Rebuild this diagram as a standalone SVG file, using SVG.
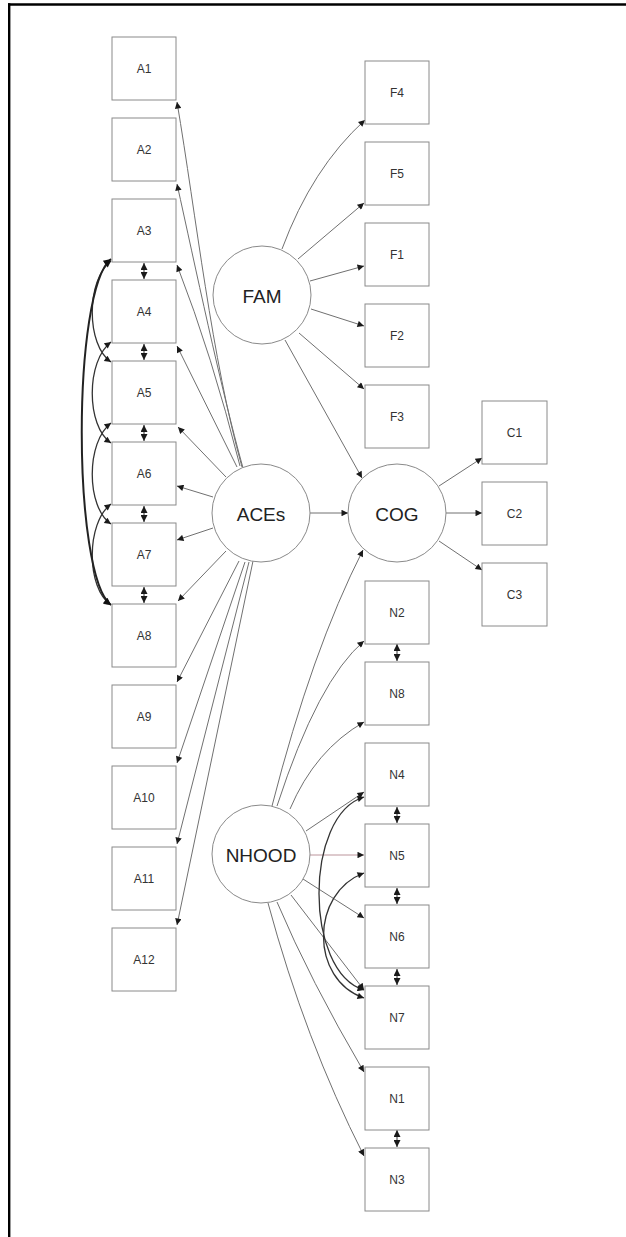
<svg xmlns="http://www.w3.org/2000/svg" width="626" height="1237" viewBox="0 0 626 1237">
  <defs>
    <style>
      .box { fill: #ffffff; stroke: #8a8a8a; stroke-width: 1; }
      .lat { fill: #ffffff; stroke: #8a8a8a; stroke-width: 1; }
      .bl { font-family: "Liberation Sans", Arial, sans-serif; font-size: 12px; fill: #333; text-anchor: middle; dominant-baseline: central; }
      .ll { font-family: "Liberation Sans", Arial, sans-serif; font-size: 19px; fill: #222; text-anchor: middle; dominant-baseline: central; }
      .e { fill: none; stroke: #707070; stroke-width: 1; marker-end: url(#ah); }
      .cv { fill: none; stroke: #333; stroke-width: 1.3; marker-start: url(#ah); marker-end: url(#ah); }
      .cvb { fill: none; stroke: #222; stroke-width: 2; marker-start: url(#ahb); marker-end: url(#ahb); }
      .dd { fill: none; stroke: #333; stroke-width: 1; marker-start: url(#ahs); marker-end: url(#ahs); }
    </style>
    <marker id="ah" viewBox="0 0 10 10" refX="10" refY="5" markerWidth="9" markerHeight="6.5" markerUnits="userSpaceOnUse" orient="auto-start-reverse">
      <path d="M0,0 L10,5 L0,10 z" fill="#1a1a1a"/>
    </marker>
    <marker id="ahb" viewBox="0 0 10 10" refX="10" refY="5" markerWidth="10" markerHeight="7.5" markerUnits="userSpaceOnUse" orient="auto-start-reverse">
      <path d="M0,0 L10,5 L0,10 z" fill="#111"/>
    </marker>
    <marker id="ahs" viewBox="0 0 10 10" refX="10" refY="5" markerWidth="8" markerHeight="7" markerUnits="userSpaceOnUse" orient="auto-start-reverse">
      <path d="M0,0 L10,5 L0,10 z" fill="#1a1a1a"/>
    </marker>
  </defs>

  <rect x="0" y="0" width="626" height="1237" fill="#ffffff"/>

  <!-- frame -->
  <g id="frame" stroke="#000" stroke-width="2.4">
    <line x1="8" y1="4.5" x2="626" y2="4.5"/>
    <line x1="9.2" y1="3.3" x2="9.2" y2="1237"/>
  </g>

  <!-- connectors -->
  <g id="connectors">
    <!-- ACEs loadings -->
    <path class="e" d="M242,467 C212,360 196,215 177,102"/>
    <path class="e" d="M243,468 C220,385 195,265 177,184"/>
    <path class="e" d="M240,466 Q212,355 177,265"/>
    <path class="e" d="M237,467 L177,346"/>
    <path class="e" d="M226,477 L178,427"/>
    <path class="e" d="M213,497 L177,486"/>
    <path class="e" d="M213,528 L177,540"/>
    <path class="e" d="M226,551 L178,601"/>
    <path class="e" d="M239,561 L177,682"/>
    <path class="e" d="M245,562 L177,763"/>
    <path class="e" d="M249,562 L177,844"/>
    <path class="e" d="M253,561 L177,925"/>

    <!-- FAM loadings -->
    <path class="e" d="M282,249 Q312,168 365,120"/>
    <path class="e" d="M298,259 L364,203"/>
    <path class="e" d="M310,281 L364,266"/>
    <path class="e" d="M311,309 L364,326"/>
    <path class="e" d="M299,333 L364,389"/>

    <!-- structural paths -->
    <path class="e" d="M285,340 L362,478"/>
    <path class="e" d="M310,513 L348,513"/>
    <path class="e" d="M272,806 Q312,650 363,550"/>

    <!-- COG loadings -->
    <path class="e" d="M439,486 L482,458"/>
    <path class="e" d="M446,513 L482,513"/>
    <path class="e" d="M439,541 L482,570"/>

    <!-- NHOOD loadings -->
    <path class="e" d="M277,806 Q318,680 364,641"/>
    <path class="e" d="M290,809 Q315,750 364,722"/>
    <path class="e" d="M306,831 L364,792"/>
    <path class="e" d="M310,855 L364,855" style="stroke:#bb949b"/>
    <path class="e" d="M303,879 L364,918"/>
    <path class="e" d="M291,895 L364,990"/>
    <path class="e" d="M277,902 Q310,980 364,1072"/>
    <path class="e" d="M268,903 Q305,1040 364,1156"/>

    <!-- residual covariances, adjacent items -->
    <path class="dd" d="M144,263 L144,279"/>
    <path class="dd" d="M144,344 L144,360"/>
    <path class="dd" d="M144,425 L144,441"/>
    <path class="dd" d="M144,506 L144,522"/>
    <path class="dd" d="M144,587 L144,603"/>
    <path class="dd" d="M397,644 L397,661"/>
    <path class="dd" d="M397,807 L397,823"/>
    <path class="dd" d="M397,888 L397,904"/>
    <path class="dd" d="M397,969 L397,985"/>
    <path class="dd" d="M397,1130 L397,1147"/>

    <!-- residual covariances, curved -->
    <path class="cv" d="M111,261 C86,280 86,345 111,362"/>
    <path class="cv" d="M111,342 C86,361 86,426 111,443"/>
    <path class="cv" d="M111,423 C86,442 86,507 111,524"/>
    <path class="cv" d="M111,504 C86,523 86,588 111,605"/>
    <path class="cvb" d="M111,259 C72,290 72,575 111,605"/>
    <path class="cv" d="M364,797 C304,815 304,972 364,990"/>
    <path class="cv" d="M364,873 C310,893 310,980 364,998"/>
  </g>

  <!-- ACEs indicators -->
  <g id="A1"><rect class="box" x="112" y="37" width="64" height="63"/><text class="bl" x="144" y="69">A1</text></g>
  <g id="A2"><rect class="box" x="112" y="118" width="64" height="63"/><text class="bl" x="144" y="150">A2</text></g>
  <g id="A3"><rect class="box" x="112" y="199" width="64" height="63"/><text class="bl" x="144" y="231">A3</text></g>
  <g id="A4"><rect class="box" x="112" y="280" width="64" height="63"/><text class="bl" x="144" y="312">A4</text></g>
  <g id="A5"><rect class="box" x="112" y="361" width="64" height="63"/><text class="bl" x="144" y="393">A5</text></g>
  <g id="A6"><rect class="box" x="112" y="442" width="64" height="63"/><text class="bl" x="144" y="474">A6</text></g>
  <g id="A7"><rect class="box" x="112" y="523" width="64" height="63"/><text class="bl" x="144" y="555">A7</text></g>
  <g id="A8"><rect class="box" x="112" y="604" width="64" height="63"/><text class="bl" x="144" y="636">A8</text></g>
  <g id="A9"><rect class="box" x="112" y="685" width="64" height="63"/><text class="bl" x="144" y="717">A9</text></g>
  <g id="A10"><rect class="box" x="112" y="766" width="64" height="63"/><text class="bl" x="144" y="798">A10</text></g>
  <g id="A11"><rect class="box" x="112" y="847" width="64" height="63"/><text class="bl" x="144" y="879">A11</text></g>
  <g id="A12"><rect class="box" x="112" y="928" width="64" height="63"/><text class="bl" x="144" y="960">A12</text></g>

  <!-- FAM indicators -->
  <g id="F4"><rect class="box" x="365" y="61" width="64" height="63"/><text class="bl" x="397" y="93">F4</text></g>
  <g id="F5"><rect class="box" x="365" y="142" width="64" height="63"/><text class="bl" x="397" y="174">F5</text></g>
  <g id="F1"><rect class="box" x="365" y="223" width="64" height="63"/><text class="bl" x="397" y="255">F1</text></g>
  <g id="F2"><rect class="box" x="365" y="304" width="64" height="63"/><text class="bl" x="397" y="336">F2</text></g>
  <g id="F3"><rect class="box" x="365" y="385" width="64" height="63"/><text class="bl" x="397" y="417">F3</text></g>

  <!-- COG indicators -->
  <g id="C1"><rect class="box" x="482" y="401" width="65" height="63"/><text class="bl" x="514.5" y="433">C1</text></g>
  <g id="C2"><rect class="box" x="482" y="482" width="65" height="63"/><text class="bl" x="514.5" y="514">C2</text></g>
  <g id="C3"><rect class="box" x="482" y="563" width="65" height="63"/><text class="bl" x="514.5" y="595">C3</text></g>

  <!-- NHOOD indicators -->
  <g id="N2"><rect class="box" x="365" y="581" width="64" height="63"/><text class="bl" x="397" y="613">N2</text></g>
  <g id="N8"><rect class="box" x="365" y="662" width="64" height="63"/><text class="bl" x="397" y="694">N8</text></g>
  <g id="N4"><rect class="box" x="365" y="743" width="64" height="63"/><text class="bl" x="397" y="775">N4</text></g>
  <g id="N5"><rect class="box" x="365" y="824" width="64" height="63"/><text class="bl" x="397" y="856">N5</text></g>
  <g id="N6"><rect class="box" x="365" y="905" width="64" height="63"/><text class="bl" x="397" y="937">N6</text></g>
  <g id="N7"><rect class="box" x="365" y="986" width="64" height="63"/><text class="bl" x="397" y="1018">N7</text></g>
  <g id="N1"><rect class="box" x="365" y="1067" width="64" height="63"/><text class="bl" x="397" y="1099">N1</text></g>
  <g id="N3"><rect class="box" x="365" y="1148" width="64" height="63"/><text class="bl" x="397" y="1180">N3</text></g>

  <!-- latent variables -->
  <g id="FAM"><circle class="lat" cx="262" cy="295" r="49"/><text class="ll" x="262" y="296">FAM</text></g>
  <g id="ACEs"><circle class="lat" cx="261" cy="513" r="49"/><text class="ll" x="261" y="514">ACEs</text></g>
  <g id="COG"><circle class="lat" cx="397" cy="513" r="49"/><text class="ll" x="397" y="514">COG</text></g>
  <g id="NHOOD"><circle class="lat" cx="261" cy="854" r="49"/><text class="ll" x="261" y="855">NHOOD</text></g>
</svg>
